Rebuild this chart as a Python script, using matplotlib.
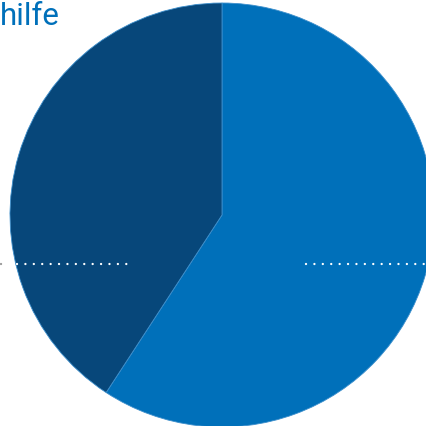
import matplotlib
matplotlib.use("Agg")
import matplotlib.pyplot as plt

# slice shares (percent), clockwise from 12 o'clock
labels = ["hell", "dunkel"]
shares = [59.2, 40.8]
colors = ["#0070BA", "#07477A"]
title_text = "hilfe"

H = 427
fig = plt.figure(figsize=(4.26, 4.27), dpi=100)
ax = fig.add_axes([0, 0, 1, 1])

ax.pie(shares, colors=colors, startangle=90, counterclock=False,
       center=(222, H - 216), radius=212, frame=True,
       wedgeprops=dict(edgecolor="#3d8fcc", linewidth=0.6))
ax.set_xlim(0, 426)
ax.set_ylim(0, H)
ax.set_aspect("equal")
ax.axis("off")

# dotted leader lines (round dots)
y_dots = H - 265
dot_style = dict(linewidth=1.7, linestyle=(0, (0.01, 3.55)),
                 dash_capstyle="round", solid_capstyle="round")
ax.plot([1, 9], [y_dots, y_dots], color="#9a9a9a", **dot_style)
ax.plot([17, 129], [y_dots, y_dots], color="white", **dot_style)
ax.plot([306, 426], [y_dots, y_dots], color="white", **dot_style)

ax.text(0, H - 2, title_text, ha="left", va="top", fontsize=22.5, color="#0070BA",
        family=["Roboto", "DejaVu Sans"])

fig.savefig("out.png", dpi=100)
